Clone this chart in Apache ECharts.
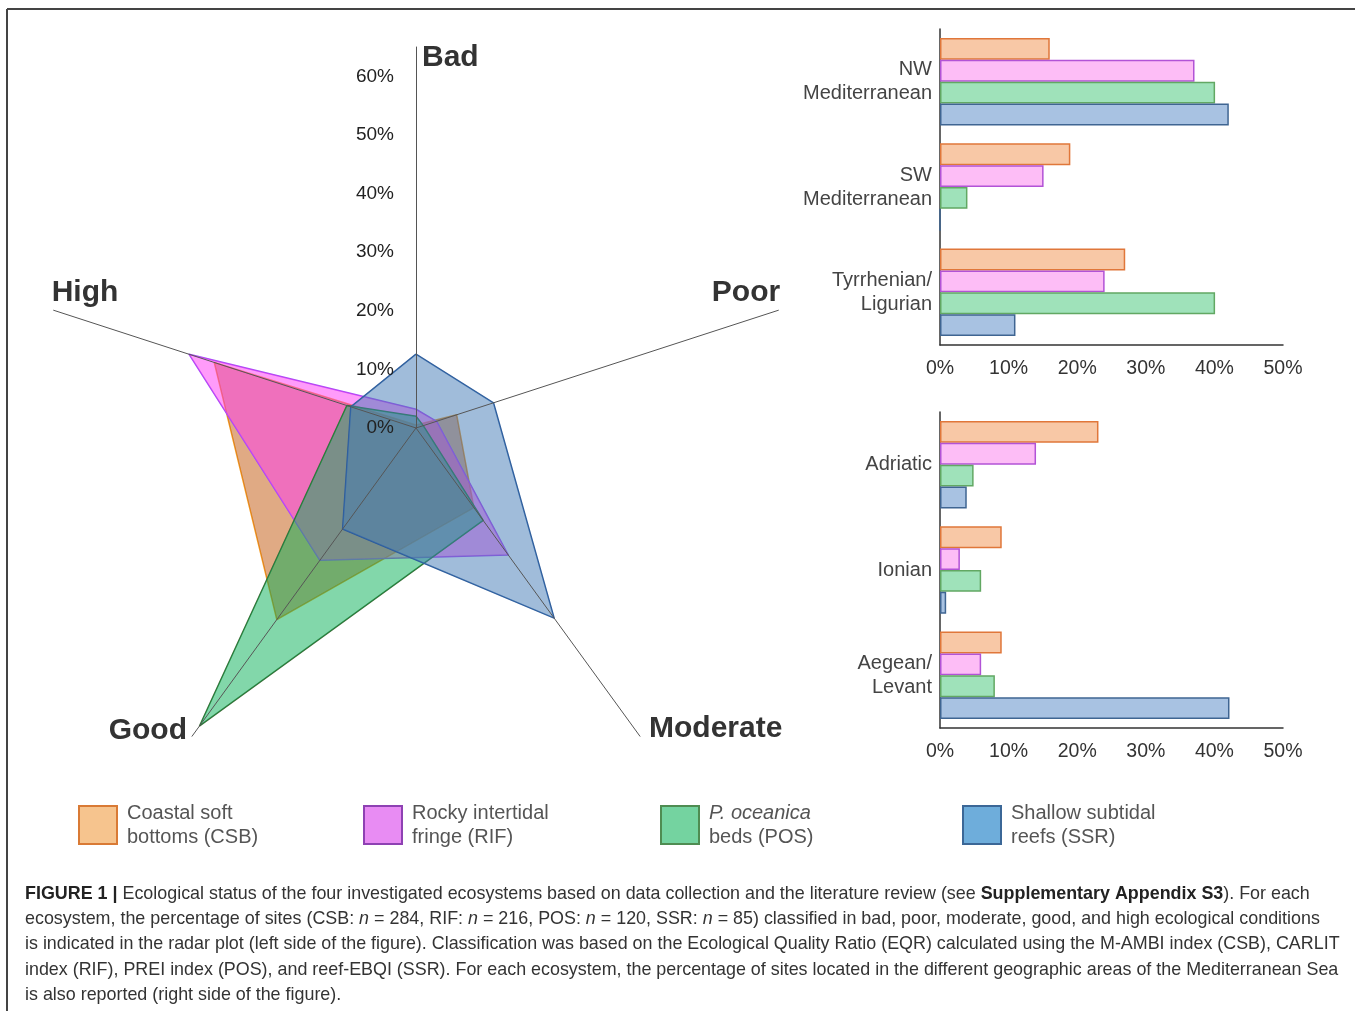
<!DOCTYPE html>
<html><head><meta charset="utf-8">
<script src="https://cdn.jsdelivr.net/npm/echarts@6/dist/echarts.min.js"></script>
<style>html,body{margin:0;padding:0;background:#fff}#c{width:1355px;height:1011px}</style>
</head><body><div id="c"></div>
<script>
// ---- radar (ecological status) ----
// indicator order runs counterclockwise from the top
const statusAxes = ['Bad', 'High', 'Good', 'Moderate', 'Poor'];
const radarMax = 65;
const csbStatus = [0.5, 36.2, 40.4, 16.8, 7.3];
const rifStatus = [3.2, 40.7, 27.9, 26.8, 3.7];
const posStatus = [2.0, 12.4, 62.8, 19.5, 1.3];
const ssrStatus = [12.6, 11.7, 21.3, 40.1, 13.9];

// ---- geographic areas ----
const westRegions = ['NW\nMediterranean', 'SW\nMediterranean', 'Tyrrhenian/\nLigurian'];
const csbWest = [16.0, 19.0, 27.0];
const rifWest = [37.1, 15.1, 24.0];
const posWest = [40.1, 4.0, 40.1];
const ssrWest = [42.1, 0, 11.0];

const eastRegions = ['Adriatic', 'Ionian', 'Aegean/\nLevant'];
const csbEast = [23.1, 9.0, 9.0];
const rifEast = [14.0, 2.9, 6.0];
const posEast = [4.9, 6.0, 8.0];
const ssrEast = [3.9, 0.9, 42.2];

const barMax = 50;
const ecosystems = ['CSB', 'RIF', 'POS', 'SSR'];
const legendLabels = ['Coastal soft\nbottoms (CSB)', 'Rocky intertidal\nfringe (RIF)', '{i|P. oceanica}\nbeds (POS)', 'Shallow subtidal\nreefs (SSR)'];

const captionLines = [
  '{b|FIGURE 1 |} Ecological status of the four investigated ecosystems based on data collection and the literature review (see {b|Supplementary Appendix S3}). For each',
  'ecosystem, the percentage of sites (CSB: {i|n} = 284, RIF: {i|n} = 216, POS: {i|n} = 120, SSR: {i|n} = 85) classified in bad, poor, moderate, good, and high ecological conditions',
  'is indicated in the radar plot (left side of the figure). Classification was based on the Ecological Quality Ratio (EQR) calculated using the M-AMBI index (CSB), CARLIT',
  'index (RIF), PREI index (POS), and reef-EBQI (SSR). For each ecosystem, the percentage of sites located in the different geographic areas of the Mediterranean Sea',
  'is also reported (right side of the figure).'
];

const FONT = "'Liberation Sans', Arial, sans-serif";
const CAP = 17.9;
const radarStyles = {
  CSB: {line: '#f5a02a', area: 'rgba(193,85,9,0.5)'},
  RIF: {line: '#a64df5', area: 'rgba(255,55,245,0.5)'},
  POS: {line: '#3a6b36', area: 'rgba(5,175,85,0.5)'},
  SSR: {line: '#2d5b9a', area: 'rgba(65,121,181,0.5)'}
};
const barStyles = {
  CSB: {fill: '#f8c8a6', border: '#e0773a'},
  RIF: {fill: '#fdbdf6', border: '#b253d6'},
  POS: {fill: '#9fe2ba', border: '#62a863'},
  SSR: {fill: '#a8c2e2', border: '#3f6592'}
};
const legendStyles = {
  CSB: {fill: '#f6c48e', border: '#d97a35'},
  RIF: {fill: '#e88cf3', border: '#8e41b3'},
  POS: {fill: '#74d3a0', border: '#4f8c52'},
  SSR: {fill: '#6eaddb', border: '#3b6797'}
};
const statusData = {CSB: csbStatus, RIF: rifStatus, POS: posStatus, SSR: ssrStatus};
const westData = {CSB: csbWest, RIF: rifWest, POS: posWest, SSR: ssrWest};
const eastData = {CSB: csbEast, RIF: rifEast, POS: posEast, SSR: ssrEast};

const chart = echarts.init(document.getElementById('c'), null, {renderer: 'canvas'});

const barGrids = [
  {left: 940, top: 29, width: 343, height: 316},
  {left: 940, top: 412, width: 343, height: 316}
];

function barX(idx) {
  return {
    type: 'value', gridIndex: idx, min: 0, max: barMax, interval: 10,
    axisLine: {show: true, lineStyle: {color: '#333', width: 1.5}},
    axisTick: {show: false}, splitLine: {show: false},
    axisLabel: {formatter: '{value}%', fontSize: 19.5, color: '#333', margin: 14, fontFamily: FONT}
  };
}
function barY(idx, cats) {
  return {
    type: 'category', gridIndex: idx, data: cats, inverse: true,
    axisLine: {show: true, lineStyle: {color: '#333', width: 1.5}},
    axisTick: {show: false},
    axisLabel: {fontSize: 20, color: '#444', margin: 8, lineHeight: 24, fontFamily: FONT}
  };
}
function barSeries(axisIdx, data) {
  return ecosystems.map(e => ({
    type: 'bar', name: e, xAxisIndex: axisIdx, yAxisIndex: axisIdx,
    data: data[e], barGap: '0%', barCategoryGap: '17%',
    itemStyle: {color: barStyles[e].fill, borderColor: barStyles[e].border, borderWidth: 1.5},
    silent: true
  }));
}

const radarNamePos = {
  Bad: {x: 422, y: 58, align: 'left'},
  High: {x: 85, y: 293, align: 'center'},
  Poor: {x: 746, y: 293, align: 'center'},
  Good: {x: 187, y: 731, align: 'right'},
  Moderate: {x: 649, y: 729, align: 'left'}
};

const legendLefts = [78, 363, 660, 962];

const option = {
  animation: false,
  textStyle: {fontFamily: FONT},
  grid: [
    {left: 416, top: 47, width: 1, height: 381},
    barGrids[0], barGrids[1]
  ],
  xAxis: [
    {type: 'value', gridIndex: 0, show: false, min: 0, max: 1},
    barX(1), barX(2)
  ],
  yAxis: [
    {type: 'value', gridIndex: 0, min: 0, max: radarMax, interval: 10, z: 20,
     axisLine: {show: false}, axisTick: {show: false}, splitLine: {show: false},
     axisLabel: {formatter: v => v > 60 ? '' : v + '%', margin: 22, fontSize: 19, color: '#222', fontFamily: FONT}},
    barY(1, westRegions), barY(2, eastRegions)
  ],
  radar: {
    center: [416, 428], radius: 381, startAngle: 90, shape: 'polygon', splitNumber: 5, z: 10,
    indicator: statusAxes.map(n => ({name: n, min: 0, max: radarMax})),
    axisName: {show: false},
    axisLine: {lineStyle: {color: '#555', width: 1}},
    splitLine: {show: false}, splitArea: {show: false},
    axisTick: {show: false}, axisLabel: {show: false}
  },
  legend: ecosystems.map((e, i) => ({
    left: legendLefts[i], top: 801, padding: 0, orient: 'horizontal',
    itemWidth: 38, itemHeight: 38, icon: 'rect', selectedMode: false,
    data: [{name: e, itemStyle: {color: legendStyles[e].fill, borderColor: legendStyles[e].border, borderWidth: 2}}],
    formatter: () => legendLabels[i],
    textStyle: {fontSize: 20, color: '#555', lineHeight: 24, fontFamily: FONT, padding: [0, 0, 0, 5],
      rich: {i: {fontStyle: 'italic', fontSize: 20, color: '#555', lineHeight: 24, fontFamily: FONT}}}
  })),
  series: [
    {
      type: 'radar', symbol: 'none', silent: true, z: 2,
      data: ecosystems.map(e => ({
        name: e, value: statusData[e],
        itemStyle: {color: radarStyles[e].line},
        lineStyle: {color: radarStyles[e].line, width: 1.5},
        areaStyle: {color: radarStyles[e].area, opacity: 1}
      }))
    },
    ...barSeries(1, westData),
    ...barSeries(2, eastData)
  ],
  graphic: [
    {type: 'line', shape: {x1: 7, y1: 9, x2: 1355, y2: 9}, style: {stroke: '#444', lineWidth: 2}},
    {type: 'line', shape: {x1: 7, y1: 9, x2: 7, y2: 1011}, style: {stroke: '#444', lineWidth: 2}},
    ...statusAxes.map(n => ({
      type: 'text', x: radarNamePos[n].x, y: radarNamePos[n].y,
      style: {text: n, fontSize: 30, fontWeight: 'bold', fontFamily: FONT, fill: '#333',
        align: radarNamePos[n].align, verticalAlign: 'middle'}
    })),
    ...captionLines.map((t, i) => ({
      type: 'text', x: 25, y: 894 + i * 25.2,
      style: {text: t, fontSize: CAP, fontFamily: FONT, fill: '#333', verticalAlign: 'middle', align: 'left',
        rich: {
          b: {fontWeight: 'bold', fontSize: CAP, fontFamily: FONT, fill: '#222'},
          i: {fontStyle: 'italic', fontSize: CAP, fontFamily: FONT, fill: '#333'}
        }}
    }))
  ]
};
chart.setOption(option);
</script></body></html>
